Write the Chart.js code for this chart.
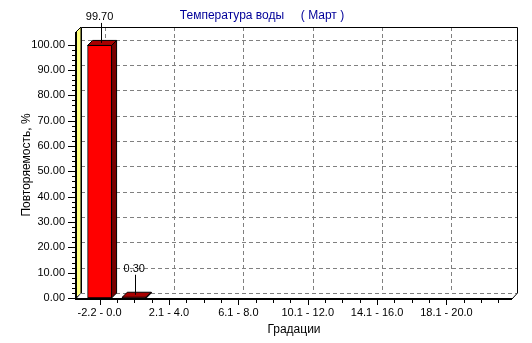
<!DOCTYPE html>
<html>
<head>
<meta charset="utf-8">
<script src="https://cdn.jsdelivr.net/npm/chart.js@4.4.0/dist/chart.umd.min.js"></script>
<style>
    html, body { margin: 0; padding: 0; background: #ffffff; }
</style>
</head>
<body>
<canvas id="waterTempChart" width="532" height="343"></canvas>
<script>
"use strict";

// Chart data
var chartTitle = 'Температура воды     ( Март )';
var yAxisTitle = 'Повторяемость, %';
var xAxisTitle = 'Градации';
var categories = ['-2.2 - 0.0', '0.1 - 2.0', '2.1 - 4.0', '4.1 - 6.0', '6.1 - 8.0', '8.1 - 10.0',
    '10.1 - 12.0', '12.1 - 14.0', '14.1 - 16.0', '16.1 - 18.0', '18.1 - 20.0', '20.1 - 22.0'];
var values = [99.70, 0.30, 0, 0, 0, 0, 0, 0, 0, 0, 0, 0];
var yTicks = [0, 10, 20, 30, 40, 50, 60, 70, 80, 90, 100];
var xTickIndexes = [0, 2, 4, 6, 8, 10];

var FONT = "'Liberation Sans', Arial, sans-serif";
var DEPTH = 5; // 3D offset of the back wall, px

// Draws the TeeChart-like 3D walls, grid, axes and bar faces
var threeDPlugin = {
    id: 'threeD',
    beforeDatasetsDraw: function (chart) {
        var ctx = chart.ctx;
        var a = chart.chartArea;
        var x = chart.scales.x;
        var y = chart.scales.y;
        var D = DEPTH;
        ctx.save();

        // back wall grid (dashed)
        ctx.strokeStyle = '#808080';
        ctx.lineWidth = 1;
        ctx.setLineDash([4, 3]);
        yTicks.forEach(function (v) {
            var py = Math.round(y.getPixelForValue(v) - D) + 0.5;
            ctx.beginPath();
            ctx.moveTo(a.left + D, py);
            ctx.lineTo(a.right + D, py);
            ctx.stroke();
        });
        xTickIndexes.forEach(function (i) {
            var px = Math.round(x.getPixelForValue(i) + D) + 0.5;
            ctx.beginPath();
            ctx.moveTo(px, a.top - D);
            ctx.lineTo(px, a.bottom - D);
            ctx.stroke();
        });
        ctx.setLineDash([]);

        // left wall (yellow)
        ctx.fillStyle = '#FFFF80';
        ctx.beginPath();
        ctx.moveTo(a.left, a.top);
        ctx.lineTo(a.left + D, a.top - D);
        ctx.lineTo(a.left + D, a.bottom - D);
        ctx.lineTo(a.left, a.bottom);
        ctx.closePath();
        ctx.fill();
        ctx.strokeStyle = '#000000';
        ctx.stroke();

        // floor left diagonal
        ctx.strokeStyle = '#808080';
        ctx.beginPath();
        ctx.moveTo(a.left + 1, a.bottom);
        ctx.lineTo(a.left + D, a.bottom - D);
        ctx.stroke();

        // back frame
        ctx.strokeStyle = '#000000';
        ctx.beginPath();
        ctx.moveTo(a.left + D + 0.5, a.bottom - D);
        ctx.lineTo(a.left + D + 0.5, a.top - D + 0.5);
        ctx.lineTo(a.right + D + 0.5, a.top - D + 0.5);
        ctx.lineTo(a.right + D + 0.5, a.bottom - D);
        ctx.lineTo(a.right, a.bottom + 1);
        ctx.stroke();

        // front axes (thick)
        ctx.lineWidth = 2;
        ctx.beginPath();
        ctx.moveTo(a.left, a.top);
        ctx.lineTo(a.left, a.bottom + 2);
        ctx.moveTo(a.left, a.bottom + 1);
        ctx.lineTo(a.right, a.bottom + 1);
        ctx.stroke();

        // tick marks
        ctx.lineWidth = 1;
        ctx.beginPath();
        for (var v = 0; v <= 100; v += 2) {
            var py = Math.round(y.getPixelForValue(v)) + 0.5;
            var len = (v % 10 === 0) ? 7 : 3;
            ctx.moveTo(a.left - 1 - len, py);
            ctx.lineTo(a.left - 1, py);
        }
        for (var k = 0; k <= 23; k++) {
            var px = Math.round(x.getPixelForValue(k / 2)) + 0.5;
            if (px > a.right) break;
            var l = (k % 4 === 0) ? 5 : 3;
            ctx.moveTo(px, a.bottom + 2);
            ctx.lineTo(px, a.bottom + 2 + l);
        }
        ctx.stroke();
        ctx.restore();
    },
    afterDatasetsDraw: function (chart) {
        var ctx = chart.ctx;
        var D = DEPTH;
        var meta = chart.getDatasetMeta(0);
        ctx.save();
        meta.data.forEach(function (bar, i) {
            if (values[i] <= 0) {
                return;
            }
            var p = bar.getProps(['x', 'y', 'base', 'width'], true);
            var x0 = p.x - p.width / 2;
            var x1 = p.x + p.width / 2;
            var top = p.y;
            ctx.lineWidth = 1;
            ctx.strokeStyle = '#000000';

            // top face
            ctx.fillStyle = '#A80000';
            ctx.beginPath();
            ctx.moveTo(x0, top);
            ctx.lineTo(x0 + D, top - D);
            ctx.lineTo(x1 + D, top - D);
            ctx.lineTo(x1, top);
            ctx.closePath();
            ctx.fill();
            ctx.stroke();

            // side face
            ctx.fillStyle = '#780000';
            ctx.beginPath();
            ctx.moveTo(x1, top);
            ctx.lineTo(x1 + D, top - D);
            ctx.lineTo(x1 + D, p.base - D);
            ctx.lineTo(x1, p.base);
            ctx.closePath();
            ctx.fill();
            ctx.stroke();

            // mark with leader line
            var labelY = top - D / 2 - 26;
            var lx = Math.round(p.x + 1) + 0.5;
            ctx.beginPath();
            ctx.moveTo(lx, labelY + 6);
            ctx.lineTo(lx, top - D / 2);
            ctx.stroke();
            ctx.fillStyle = '#000000';
            ctx.font = '11px ' + FONT;
            ctx.textAlign = 'center';
            ctx.textBaseline = 'middle';
            ctx.fillText(values[i].toFixed(2), p.x, labelY);
        });

        // chart title
        ctx.fillStyle = '#000099';
        ctx.font = '12px ' + FONT;
        ctx.textAlign = 'center';
        ctx.textBaseline = 'middle';
        ctx.fillText(chartTitle, 262, 16);
        ctx.restore();
    }
};

var ctx = document.getElementById('waterTempChart').getContext('2d');
new Chart(ctx, {
    type: 'bar',
    data: {
        datasets: [{
            data: values.map(function (v, i) { return { x: i, y: v }; }),
            backgroundColor: '#FF0000',
            borderColor: '#000000',
            borderWidth: 1,
            borderSkipped: false,
            barThickness: 24
        }]
    },
    options: {
        responsive: false,
        animation: false,
        devicePixelRatio: 1,
        layout: {
            padding: { top: 32, right: 20, left: 0, bottom: 0 }
        },
        scales: {
            x: {
                type: 'linear',
                min: -0.68,
                max: 11.89,
                offset: false,
                grid: { display: false, drawTicks: false, tickLength: 0 },
                border: { display: false },
                afterBuildTicks: function (scale) {
                    scale.ticks = xTickIndexes.map(function (v) { return { value: v }; });
                },
                afterFit: function (scale) {
                    scale.height = 45;
                },
                ticks: {
                    padding: 8,
                    maxRotation: 0,
                    autoSkip: false,
                    color: '#000000',
                    font: { family: FONT, size: 11 },
                    callback: function (value) { return categories[value]; }
                },
                title: {
                    display: true,
                    text: xAxisTitle,
                    color: '#000000',
                    font: { family: FONT, size: 12 },
                    padding: { top: 0, bottom: 6 }
                }
            },
            y: {
                min: 0,
                max: 105,
                grid: { display: false, drawTicks: false, tickLength: 0 },
                border: { display: false },
                afterBuildTicks: function (scale) {
                    scale.ticks = yTicks.map(function (v) { return { value: v }; });
                },
                afterFit: function (scale) {
                    scale.width = 76;
                },
                ticks: {
                    padding: 11,
                    color: '#000000',
                    font: { family: FONT, size: 11 },
                    callback: function (value) { return value.toFixed(2); }
                },
                title: {
                    display: true,
                    text: yAxisTitle,
                    color: '#000000',
                    font: { family: FONT, size: 12 },
                    padding: { top: 19, bottom: 0 }
                }
            }
        },
        plugins: {
            legend: { display: false },
            tooltip: { enabled: false }
        }
    },
    plugins: [threeDPlugin]
});
</script>
</body>
</html>
